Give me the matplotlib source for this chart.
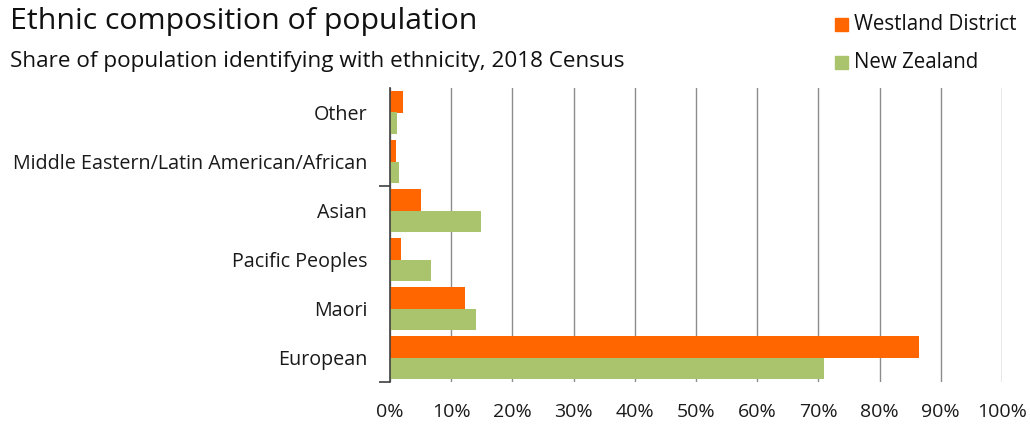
import matplotlib
matplotlib.use("Agg")
import matplotlib.pyplot as plt
from matplotlib.ticker import FixedLocator, PercentFormatter
from matplotlib.patches import Rectangle
import numpy as np

plt.rcParams['font.family'] = ['Open Sans', 'DejaVu Sans']

categories = ["European", "Maori", "Pacific Peoples", "Asian",
              "Middle Eastern/Latin American/African", "Other"]
westland = [86.5, 12.2, 1.75, 5.1, 0.9, 2.1]
new_zealand = [70.9, 14.0, 6.7, 14.9, 1.4, 1.15]
series_names = ["Westland District", "New Zealand"]
colors = ["#FF6600", "#A9C46C"]
xticks = list(range(0, 101, 10))

fig = plt.figure(figsize=(10.3, 4.25), dpi=100)
ax = fig.add_axes([390/1030, 1-382/425, 612/1030, 294/425])

y = np.arange(len(categories))
h = 0.44
ax.barh(y + h/2, westland, height=h, color=colors[0], zorder=3)
ax.barh(y - h/2, new_zealand, height=h, color=colors[1], zorder=3)

ax.set_xlim(0, 100)
ax.set_ylim(-0.5, len(categories) - 0.5)
ax.set_xticks(xticks)
ax.xaxis.set_major_formatter(PercentFormatter(decimals=0))
ax.set_yticks(y)
ax.set_yticklabels(categories)
ax.yaxis.set_minor_locator(FixedLocator([-0.5, 3.5]))
ax.tick_params(axis='y', which='major', length=0, pad=16.5, labelsize=14.2, colors='#1a1a1a')
ax.tick_params(axis='y', which='minor', length=8, width=1.2, color='#404040')
ax.tick_params(axis='x', length=0, pad=15, labelsize=14, colors='#1a1a1a')
ax.grid(axis='x', color='#8c8c8c', linewidth=1.0, zorder=0)
for s in ['top', 'right', 'bottom']:
    ax.spines[s].set_visible(False)
ax.spines['left'].set_color('#404040')
ax.spines['left'].set_linewidth(1.2)
ax.spines['left'].set_zorder(4)

fig.text(10/1030, 1-22/425, "Ethnic composition of population", fontsize=21.8,
         va='center', ha='left', color='#111111')
fig.text(10/1030, 1-61/425, "Share of population identifying with ethnicity, 2018 Census",
         fontsize=16.2, va='center', ha='left', color='#111111')

for i, (name, c) in enumerate(zip(series_names, colors)):
    yc = 24 + i * 38
    fig.patches.append(Rectangle((835/1030, 1-(yc+7)/425), 13/1030, 13/425,
                                 transform=fig.transFigure, color=c))
    fig.text(854/1030, 1-yc/425, name, fontsize=14.8, va='center', ha='left', color='#111111')

fig.savefig("out.png", dpi=100)
